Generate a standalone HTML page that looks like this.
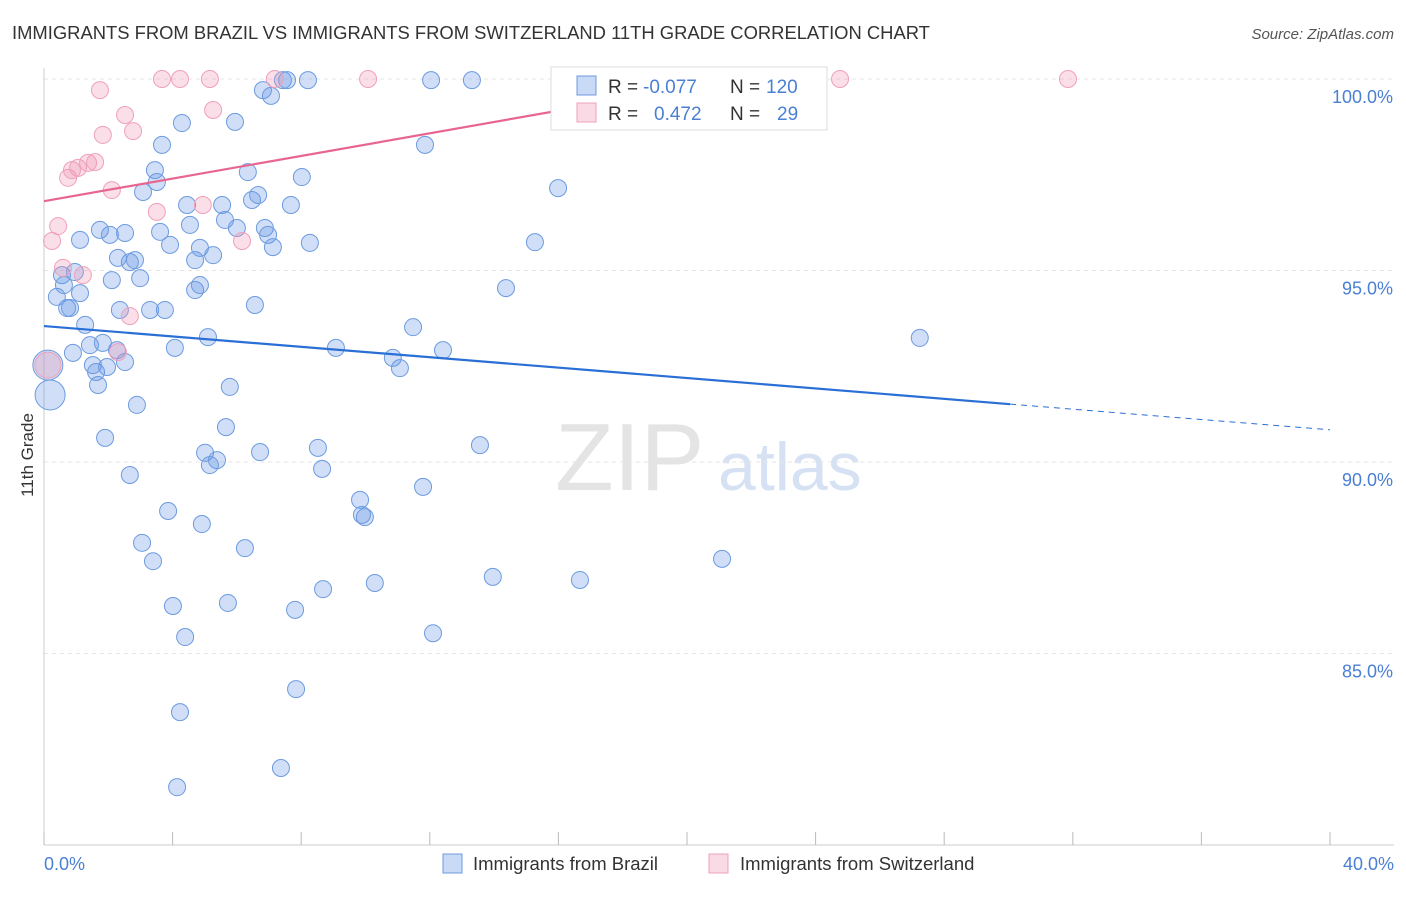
<!DOCTYPE html>
<html><head><meta charset="utf-8"><style>
body{margin:0;background:#fff;font-family:"Liberation Sans",sans-serif}
svg text{font-family:"Liberation Sans",sans-serif}
</style></head><body>
<svg id="c" width="1406" height="892" xmlns="http://www.w3.org/2000/svg">
<text x="12" y="39" font-size="18.4" fill="#333">IMMIGRANTS FROM BRAZIL VS IMMIGRANTS FROM SWITZERLAND 11TH GRADE CORRELATION CHART</text>
<text x="1394" y="39" font-size="15" fill="#555" text-anchor="end" font-style="italic">Source: ZipAtlas.com</text>
<text x="555" y="490" font-size="96" fill="#e4e4e4" font-family="Liberation Serif">ZIP</text>
<text x="718" y="490" font-size="68" fill="#d6e2f4">atlas</text>
<g id="grid"></g><g id="pts"></g><g id="trend"></g>
<text transform="translate(33,455) rotate(-90)" font-size="17" fill="#333" text-anchor="middle">11th Grade</text>
<text x="44" y="870" font-size="18" fill="#4a7fd4">0.0%</text>
<text x="1394" y="870" font-size="18" fill="#4a7fd4" text-anchor="end">40.0%</text>
<g>
<rect x="443" y="854" width="19" height="19" fill="rgba(100,150,230,0.35)" stroke="#6c9be0"/>
<text x="473" y="870" font-size="18.5" fill="#333">Immigrants from Brazil</text>
<rect x="709" y="854" width="19" height="19" fill="rgba(240,150,180,0.35)" stroke="#f0a0ba"/>
<text x="740" y="870" font-size="18.5" fill="#333">Immigrants from Switzerland</text>
</g>
<g font-size="19">
<rect x="551" y="67" width="276" height="63" fill="#fff" stroke="#ddd"/>
<rect x="577" y="76" width="19" height="19" fill="rgba(100,150,230,0.35)" stroke="#6c9be0"/>
<rect x="577" y="103" width="19" height="19" fill="rgba(240,150,180,0.35)" stroke="#f0a0ba"/>
<text x="608" y="93" fill="#333">R =</text>
<text x="643" y="93" fill="#4a7fd4">-0.077</text>
<text x="730" y="93" fill="#333">N =</text>
<text x="766" y="93" fill="#4a7fd4">120</text>
<text x="608" y="120" fill="#333">R =</text>
<text x="654" y="120" fill="#4a7fd4">0.472</text>
<text x="730" y="120" fill="#333">N =</text>
<text x="777" y="120" fill="#4a7fd4">29</text>
</g>
</svg>
<script>
const yTicks=[100,95,90,85];
const yTickLabels=["100.0%","95.0%","90.0%","85.0%"];
const blueX=[.19,.12,.40,.56,.72,.81,.62,.96,1.12,1.12,1.28,.90,1.43,1.52,1.62,1.68,1.83,1.74,2.05,2.11,2.30,2.52,2.36,2.27,2.52,1.96,1.90,2.67,2.89,2.67,2.83,2.99,3.08,3.30,3.45,3.51,3.61,3.67,3.76,3.92,4.07,4.29,4.45,4.54,4.70,4.70,4.85,4.85,5.10,5.26,5.01,5.16,5.38,5.54,5.63,5.78,5.66,5.94,6.00,6.25,6.34,6.47,6.66,6.72,6.56,6.87,6.97,7.06,6.81,7.12,7.43,7.56,8.21,8.02,7.68,8.27,8.52,8.65,9.08,9.83,9.89,9.98,10.85,11.07,11.48,11.85,12.04,12.41,13.31,13.56,11.79,14.37,15.27,15.99,16.30,27.24,21.09,16.67,13.96,10.29,8.68,12.10,7.81,7.84,7.37,4.14,4.23,4.39,4.01,5.72,4.91,3.86,3.05,3.39];
const blueY=[91.75,92.53,94.31,94.88,94.02,94.02,94.62,94.96,94.41,95.80,93.58,92.85,93.05,92.53,92.35,92.01,93.11,96.06,95.93,94.75,95.33,95.98,93.97,92.92,92.61,92.48,90.63,89.66,91.49,95.22,95.27,94.80,97.05,93.97,97.62,97.31,96.01,98.28,93.97,95.67,92.98,98.85,96.71,96.19,95.27,94.49,94.62,95.59,93.26,95.40,90.24,89.92,90.05,96.71,96.32,91.96,90.91,98.88,96.11,87.75,97.57,96.84,96.97,90.26,94.10,96.11,95.93,99.56,99.71,95.61,99.97,99.97,99.97,97.44,96.71,95.72,90.37,89.82,92.98,89.01,88.62,88.56,92.72,92.45,93.52,98.28,99.97,92.92,99.97,90.44,89.35,94.54,95.74,97.15,99.97,93.24,87.47,86.92,87.00,86.84,86.68,85.53,86.14,84.07,82.01,81.51,83.47,85.43,86.24,86.32,88.38,88.72,87.89,87.41];
const pinkX=[.12,.25,.44,.59,.75,.87,1.06,1.37,1.59,1.21,1.74,1.83,2.11,2.52,2.77,3.51,2.30,2.67,3.67,4.23,5.16,5.26,4.94,6.16,7.18,10.08,17.98,24.76,31.85];
const pinkY=[92.53,95.77,96.16,95.07,97.42,97.62,97.68,97.81,97.83,94.88,99.71,98.54,97.10,99.06,98.64,96.53,92.87,93.81,100,100,100,99.19,96.71,95.77,100,100,100,100,100];
const blueTrend=[93.55,91.51,90.84]; const blueTrendX=[0,30.05,40];
const pinkTrend=[96.81,100]; const pinkTrendX=[0,21.6];
const NS="http://www.w3.org/2000/svg";
const X=v=>44+v*32.15, Y=v=>79+(100-v)*38.3;
function mk(t,a,p){const e=document.createElementNS(NS,t);for(const k in a)e.setAttribute(k,a[k]);p.appendChild(e);return e;}
const g=document.getElementById('grid');
yTicks.forEach((t,i)=>{const l=mk('line',{x1:44,x2:1394,y1:Y(t),y2:Y(t),stroke:'#e6e6e6','stroke-dasharray':'4,4'},g);


const tx=mk('text',{x:1393,y:Y(t)+24,'font-size':18,fill:'#4a7fd4','text-anchor':'end'},g);tx.textContent=yTickLabels[i];

});
mk('line',{x1:44,x2:44,y1:68,y2:845,stroke:'#ccc'},g);
mk('line',{x1:44,x2:1394,y1:845,y2:845,stroke:'#ccc'},g);
for(let i=0;i<=10;i++){const l=mk('line',{x1:X(i*4),x2:X(i*4),y1:832,y2:845,stroke:'#bbb'},g);

}
const p=document.getElementById('pts');
blueX.forEach((x,i)=>{const r=i<2?15:8.5;const c=mk('circle',{cx:X(x),cy:Y(blueY[i]),r:r,fill:'rgba(100,150,230,0.3)',stroke:'#6c9be0','stroke-width':1},p);

});
pinkX.forEach((x,i)=>{const r=i<1?13:8.5;const c=mk('circle',{cx:X(x),cy:Y(pinkY[i]),r:r,fill:'rgba(240,150,180,0.3)',stroke:'#f0a0ba','stroke-width':1},p);

});
const tr=document.getElementById('trend');
let l1=mk('line',{x1:X(blueTrendX[0]),y1:Y(blueTrend[0]),x2:X(blueTrendX[1]),y2:Y(blueTrend[1]),stroke:'#2a6fd6','stroke-width':2.2},tr);


let l2=mk('line',{x1:X(blueTrendX[1]),y1:Y(blueTrend[1]),x2:X(blueTrendX[2]),y2:Y(blueTrend[2]),stroke:'#2a6fd6','stroke-width':1,'stroke-dasharray':'6,5'},tr);


let l3=mk('line',{x1:X(pinkTrendX[0]),y1:Y(pinkTrend[0]),x2:X(pinkTrendX[1]),y2:Y(pinkTrend[1]),stroke:'#e8658f','stroke-width':2.2},tr);


</script>
</body></html>
